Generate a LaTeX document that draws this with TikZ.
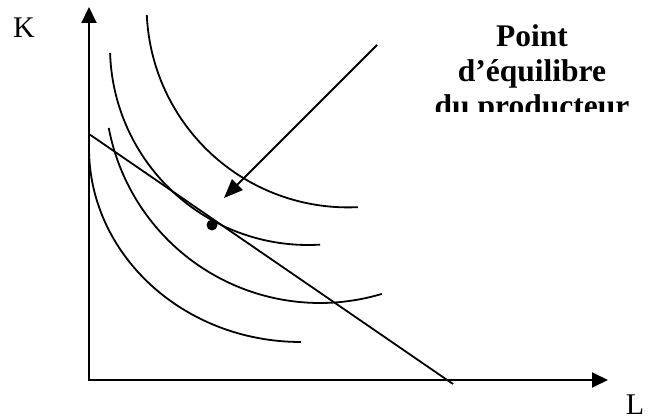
\documentclass[tikz,border=0pt]{standalone}
\usepackage{fontspec}
\setmainfont{Liberation Serif}
\usetikzlibrary{arrows.meta}
\begin{document}
\begin{tikzpicture}[x=1pt,y=-1pt,
  axis/.style={line width=2pt,line cap=rect,-{Triangle[length=16pt,width=15pt]}},
  curve/.style={line width=1.8pt},
  lbl/.style={font=\fontsize{30}{34}\selectfont, inner sep=0pt},
  btxt/.style={font=\fontsize{31.5}{36}\selectfont\bfseries, inner sep=0pt, anchor=base}]
\useasboundingbox (0,0) rectangle (648,419);
% axes
\coordinate (O) at (89,380);
\coordinate (Ytop) at (89,7);
\coordinate (Xend) at (608,380);
\draw[axis] (O) -- (Ytop);
\draw[axis] (O) -- (Xend);
\node[lbl] (lk) at (24,28) {K};
\node[lbl, anchor=base] (ll) at (635,414) {L};
% isoquants
\draw[curve] (89,148) arc[start angle=180, end angle=90, x radius=212, y radius=194];
\draw[curve] ([shift={(169.3:215)}]320,88) arc[start angle=169.3, end angle=73.3, radius=215];
\draw[curve] ([shift={(178.3:198)}]308,47) arc[start angle=178.3, end angle=86.5, radius=198];
\draw[curve] ([shift={(177.4:201.4)}]348,6) arc[start angle=177.4, end angle=87.2, radius=201.4];
% budget line
\coordinate (B1) at (89,134);
\coordinate (B2) at (453,384);
\draw[curve] (B1) -- (B2);
% equilibrium point
\node[circle, fill, inner sep=0pt, minimum size=11pt] (eq) at (212,225) {};
% arrow
\coordinate (As) at (377,45);
\coordinate (At) at (224,198);
\draw[curve, -{Triangle[length=19pt,width=15pt]}] (As) -- (At);
% text
\begin{scope}
\clip (400,0) rectangle (648,112);
\node[btxt] (t1) at (532,47) {Point};
\node[btxt] (t2) at (532,82) {d’équilibre};
\node[btxt] (t3) at (532,117) {du producteur};
\end{scope}
\end{tikzpicture}
\end{document}
